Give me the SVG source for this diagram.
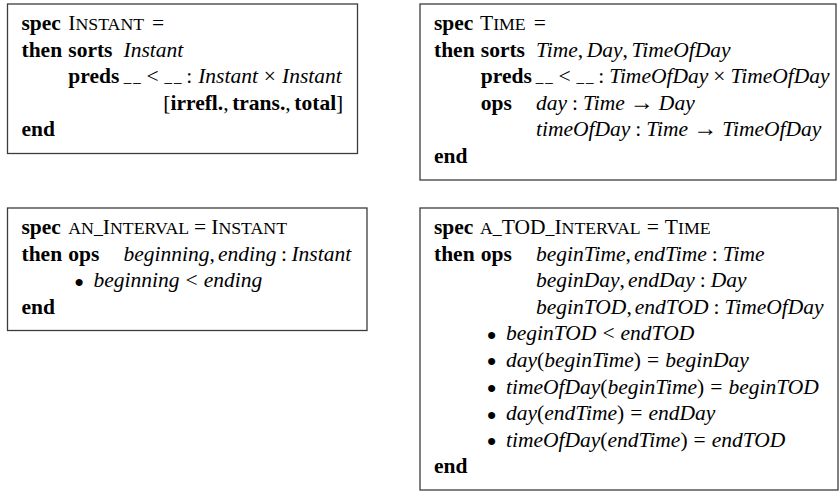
<svg xmlns="http://www.w3.org/2000/svg" width="840" height="491" viewBox="0 0 840 491">
<style>
.t{font-family:"Liberation Serif","Times New Roman",serif;font-size:21.5px;fill:#000}
.b{font-weight:bold}
.i{font-style:italic}
.sc{font-size:17.75px}
.ar{font-size:24px}
.ph{font-size:14px;letter-spacing:2.5px;stroke:#000;stroke-width:0.4}
.bul{font-family:"Liberation Serif","Times New Roman",serif;font-size:22px;fill:#000;stroke:#000;stroke-width:1.8}
.box{fill:#fff;stroke:#3c3c3c;stroke-width:1.3}
</style>
<rect x="0" y="0" width="840" height="491" fill="#fff"/>

<g id="instant">
<rect class="box" x="7.5" y="4" width="350" height="149.5"/>
<text class="t b" x="21.5" y="30">spec</text>
<text class="t" x="68.3" y="30">I<tspan class="sc">NSTANT</tspan><tspan dx="8">=</tspan></text>
<text class="t b" x="21.5" y="56.6">then</text>
<text class="t b" x="68.3" y="56.6">sorts</text>
<text class="t i" x="123.5" y="56.6">Instant</text>
<text class="t b" x="68.3" y="83.2">preds</text>
<text class="t" x="124" y="83.2"><tspan class="ph" dy="-1.5">__</tspan><tspan dx="3.5" dy="1.5">&lt;</tspan><tspan class="ph" dx="6" dy="-1.5">__</tspan><tspan dx="2.5" dy="1.5">:</tspan><tspan class="i" dx="6">Instant</tspan><tspan dx="6">×</tspan><tspan class="i" dx="6">Instant</tspan></text>
<text class="t" x="163.3" y="109.8">[<tspan class="b">irrefl.</tspan>,<tspan class="b" dx="3.6">trans.</tspan>,<tspan class="b" dx="3.6">total</tspan>]</text>
<text class="t b" x="21.5" y="136.4">end</text>
</g>

<g id="time">
<rect class="box" x="420" y="4" width="416" height="176"/>
<text class="t b" x="434" y="30">spec</text>
<text class="t" x="480" y="30">T<tspan class="sc">IME</tspan><tspan dx="8">=</tspan></text>
<text class="t b" x="434" y="56.6">then</text>
<text class="t b" x="480.8" y="56.6">sorts</text>
<text class="t" x="536" y="56.6"><tspan class="i">Time</tspan>,<tspan class="i" dx="3.5">Day</tspan>,<tspan class="i" dx="3.5">TimeOfDay</tspan></text>
<text class="t b" x="480.8" y="83.2">preds</text>
<text class="t" x="536" y="83.2"><tspan class="ph" dy="-1.5">__</tspan><tspan dx="3.5" dy="1.5">&lt;</tspan><tspan class="ph" dx="6" dy="-1.5">__</tspan><tspan dx="2.5" dy="1.5">:</tspan><tspan class="i" dx="5">TimeOfDay</tspan><tspan dx="5">×</tspan><tspan class="i" dx="5">TimeOfDay</tspan></text>
<text class="t b" x="480.8" y="109.8">ops</text>
<text class="t" x="536" y="109.8"><tspan class="i">day</tspan><tspan dx="5">:</tspan><tspan class="i" dx="5">Time</tspan><tspan class="ar" dx="5">→</tspan><tspan class="i" dx="5">Day</tspan></text>
<text class="t" x="536" y="136.4"><tspan class="i">timeOfDay</tspan><tspan dx="5">:</tspan><tspan class="i" dx="5">Time</tspan><tspan class="ar" dx="5">→</tspan><tspan class="i" dx="5">TimeOfDay</tspan></text>
<text class="t b" x="434" y="163">end</text>
</g>

<g id="an-interval">
<rect class="box" x="7.5" y="208" width="359.5" height="122.5"/>
<text class="t b" x="21.5" y="234">spec</text>
<text class="t" x="68.3" y="234"><tspan class="sc">AN_</tspan>I<tspan class="sc">NTERVAL</tspan><tspan dx="5">=</tspan><tspan dx="5">I</tspan><tspan class="sc">NSTANT</tspan></text>
<text class="t b" x="21.5" y="260.6">then</text>
<text class="t b" x="68.3" y="260.6">ops</text>
<text class="t" x="123.5" y="260.6"><tspan class="i">beginning</tspan>,<tspan class="i" dx="3">ending</tspan><tspan dx="4.5">:</tspan><tspan class="i" dx="4.5">Instant</tspan></text>
<text class="bul" x="79" y="289.5" text-anchor="middle">•</text>
<text class="t" x="93.5" y="287.2"><tspan class="i">beginning</tspan><tspan dx="6">&lt;</tspan><tspan class="i" dx="6">ending</tspan></text>
<text class="t b" x="21.5" y="313.8">end</text>
</g>

<g id="a-tod-interval">
<rect class="box" x="420" y="208" width="418" height="282"/>
<text class="t b" x="434" y="234">spec</text>
<text class="t" x="480" y="234"><tspan class="sc">A_</tspan>TOD<tspan class="sc">_</tspan>I<tspan class="sc">NTERVAL</tspan><tspan dx="6">=</tspan><tspan dx="6">T</tspan><tspan class="sc">IME</tspan></text>
<text class="t b" x="434" y="260.6">then</text>
<text class="t b" x="480.8" y="260.6">ops</text>
<text class="t" x="536" y="260.6"><tspan class="i">beginTime</tspan>,<tspan class="i" dx="3">endTime</tspan><tspan dx="5">:</tspan><tspan class="i" dx="5">Time</tspan></text>
<text class="t" x="536" y="287.2"><tspan class="i">beginDay</tspan>,<tspan class="i" dx="3">endDay</tspan><tspan dx="5">:</tspan><tspan class="i" dx="5">Day</tspan></text>
<text class="t" x="536" y="313.8"><tspan class="i">beginTOD</tspan>,<tspan class="i" dx="3">endTOD</tspan><tspan dx="5">:</tspan><tspan class="i" dx="5">TimeOfDay</tspan></text>
<text class="bul" x="491.5" y="342.7" text-anchor="middle">•</text>
<text class="t" x="506" y="340.4"><tspan class="i">beginTOD</tspan><tspan dx="6">&lt;</tspan><tspan class="i" dx="6">endTOD</tspan></text>
<text class="bul" x="491.5" y="369.3" text-anchor="middle">•</text>
<text class="t" x="506" y="367"><tspan class="i">day</tspan>(<tspan class="i">beginTime</tspan>)<tspan dx="6">=</tspan><tspan class="i" dx="6">beginDay</tspan></text>
<text class="bul" x="491.5" y="395.9" text-anchor="middle">•</text>
<text class="t" x="506" y="393.6"><tspan class="i">timeOfDay</tspan>(<tspan class="i">beginTime</tspan>)<tspan dx="6">=</tspan><tspan class="i" dx="6">beginTOD</tspan></text>
<text class="bul" x="491.5" y="422.5" text-anchor="middle">•</text>
<text class="t" x="506" y="420.2"><tspan class="i">day</tspan>(<tspan class="i">endTime</tspan>)<tspan dx="6">=</tspan><tspan class="i" dx="6">endDay</tspan></text>
<text class="bul" x="491.5" y="449.1" text-anchor="middle">•</text>
<text class="t" x="506" y="446.8"><tspan class="i">timeOfDay</tspan>(<tspan class="i">endTime</tspan>)<tspan dx="6">=</tspan><tspan class="i" dx="6">endTOD</tspan></text>
<text class="t b" x="434" y="473.4">end</text>
</g>

<g id="connectors"></g>
</svg>
